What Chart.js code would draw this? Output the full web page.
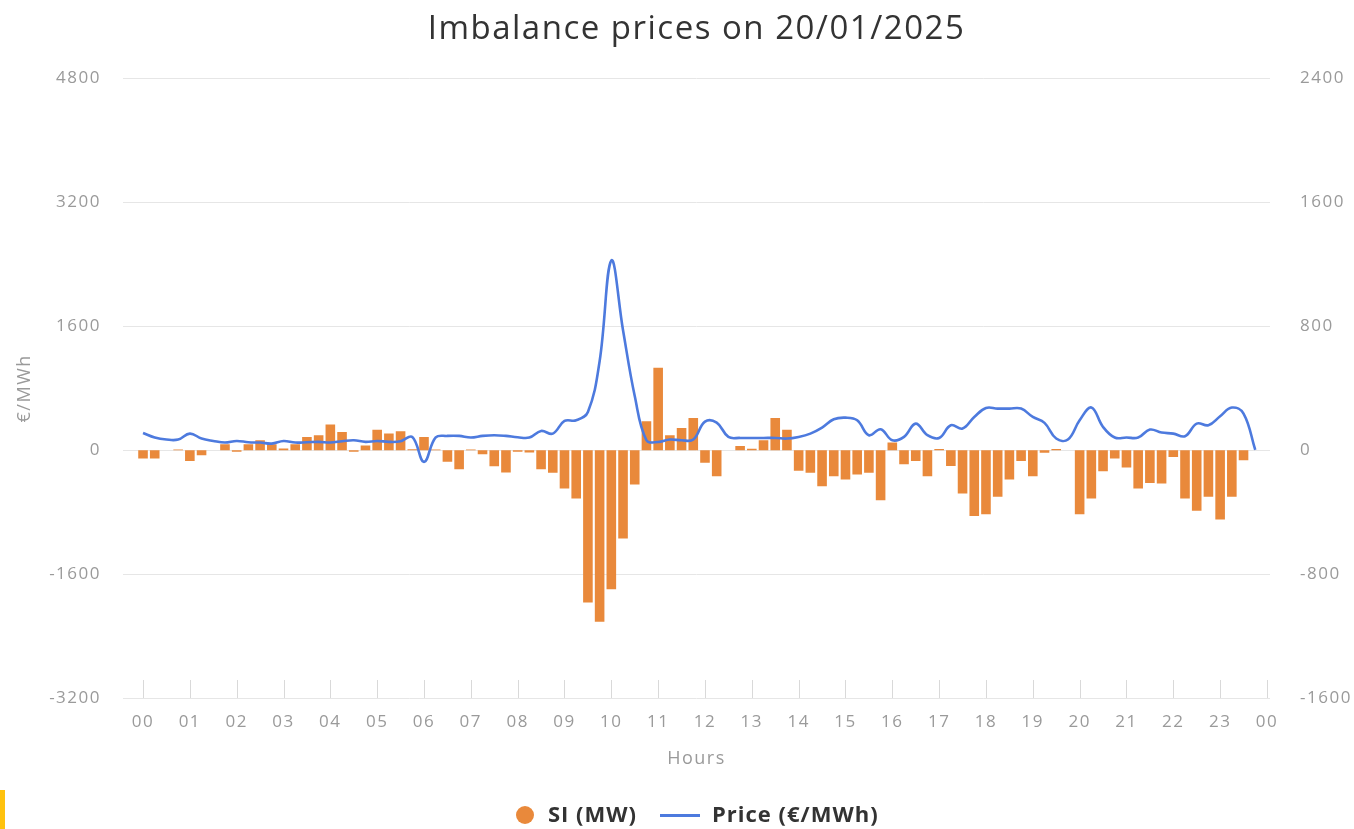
<!DOCTYPE html>
<html>
<head>
<meta charset="utf-8">
<script src="https://cdn.jsdelivr.net/npm/chart.js@4.4.1/dist/chart.umd.min.js"></script>
<style>
  html, body { margin: 0; padding: 0; background: #ffffff; }
  #wrap { position: relative; width: 1354px; height: 829px; overflow: hidden; }
  #c { position: absolute; left: 0; top: 0; }
  .lg { position: absolute; font-family: 'Open Sans', sans-serif; font-weight: 700; font-size: 22px;
        letter-spacing: 1px; color: #333; white-space: nowrap; line-height: 30px; top: 798px; }
  .dot { position: absolute; left: 516px; top: 806px; width: 18px; height: 18px; border-radius: 50%; background: #e9893b; }
  .ln { position: absolute; left: 660px; top: 814px; width: 40px; height: 3px; background: #4d7ade; }
  #mark { position: absolute; left: 0; top: 790px; width: 5px; height: 39px; background: #ffc20e; }
</style>
</head>
<body>
<div id="wrap">
  <canvas id="c" width="1354" height="829"></canvas>
  <span class="dot"></span><span class="lg" style="left:548px">SI (MW)</span>
  <span class="ln"></span><span class="lg" style="left:712px">Price (€/MWh)</span>
  <div id="mark"></div>
</div>
<script>
// ---- data ----
const hourLabels = ['00','01','02','03','04','05','06','07','08','09','10','11','12',
                    '13','14','15','16','17','18','19','20','21','22','23','00'];
// System imbalance per quarter hour (MW), 00:00 .. 23:45
const siMW = [
  -54, -54, 0, 5, -69, -32, 0, 39,
  -10, 39, 65, 39, 11, 39, 86, 97,
  166, 118, -10, 30, 133, 108, 123, 6,
  86, 5, -75, -123, 5, -26, -103, -144,
  -10, -15, -123, -146, -247, -312, -983, -1108,
  -897, -570, -222, 187, 533, 97, 144, 209,
  -80, -168, 0, 28, 10, 65, 209, 133,
  -133, -146, -232, -168, -189, -157, -146, -323,
  50, -90, -69, -168, 8, -101, -280, -424,
  -413, -301, -189, -69, -168, -17, 8, 0,
  -413, -312, -135, -54, -112, -247, -211, -215,
  -43, -312, -391, -301, -447, -301, -65, 0
];
// Imbalance price per quarter hour (EUR/MWh)
const priceEur = [
  223, 164, 138, 138, 215, 151, 120, 99,
  120, 103, 99, 86, 120, 99, 103, 108,
  100, 116, 129, 108, 120, 108, 116, 172,
  -150, 165, 185, 185, 164, 185, 194, 185,
  168, 164, 249, 215, 378, 387, 495, 1150,
  2450, 1550, 700, 129, 107, 138, 129, 138,
  370, 357, 172, 159, 159, 159, 159, 151,
  172, 215, 293, 400, 421, 387, 194, 271,
  129, 172, 344, 194, 159, 323, 280, 430,
  546, 538, 538, 538, 430, 353, 151, 138,
  387, 552, 301, 164, 164, 164, 267, 228,
  215, 181, 344, 323, 439, 551, 473, 5
];
const leftTicks = [-3200, -1600, 0, 1600, 3200, 4800];
const rightTicks = [-1600, -800, 0, 800, 1600, 2400];

const FONT = "'Open Sans', sans-serif";

const spacing = {
  id: 'spacing',
  beforeDraw(chart) { chart.ctx.letterSpacing = '1.5px'; }
};

const innerTicks = {
  id: 'innerTicks',
  afterDraw(chart) {
    const xs = chart.scales.x, ctx = chart.ctx, b = chart.chartArea.bottom;
    ctx.save();
    ctx.strokeStyle = '#d9d9d9';
    ctx.lineWidth = 1;
    xs.ticks.forEach(t => {
      const px = Math.round(xs.getPixelForValue(t.value)) + 0.5;
      ctx.beginPath();
      ctx.moveTo(px, b);
      ctx.lineTo(px, b - 18);
      ctx.stroke();
    });
    ctx.restore();
  }
};

new Chart(document.getElementById('c'), {
  type: 'bar',
  data: {
    datasets: [
      {
        type: 'line',
        label: 'Price (€/MWh)',
        data: priceEur.map((v, i) => ({ x: i, y: v })),
        yAxisID: 'y',
        borderColor: '#4d7ade',
        borderWidth: 2.6,
        pointRadius: 0,
        tension: 0.4,
        fill: false,
        order: 0
      },
      {
        type: 'bar',
        label: 'SI (MW)',
        data: siMW.map((v, i) => ({ x: i, y: v })),
        yAxisID: 'y1',
        backgroundColor: '#e9893b',
        barPercentage: 0.82,
        categoryPercentage: 1.0,
        order: 1
      }
    ]
  },
  options: {
    responsive: false,
    animation: false,
    devicePixelRatio: 1,
    layout: { padding: 0 },
    plugins: {
      legend: { display: false },
      tooltip: { enabled: false },
      title: {
        display: true,
        text: 'Imbalance prices on 20/01/2025',
        fullSize: false,
        color: '#333333',
        font: { family: FONT, size: 33, weight: 'normal' },
        padding: { top: 10, bottom: 29 }
      }
    },
    scales: {
      x: {
        type: 'linear',
        min: -1.71,
        max: 96.26,
        offset: false,
        afterBuildTicks(scale) {
          scale.ticks = hourLabels.map((_, h) => ({ value: h * 4 }));
        },
        afterFit(scale) { scale.height = 131; },
        ticks: {
          color: '#9a9a9a',
          font: { family: FONT, size: 17 },
          padding: 14,
          maxRotation: 0,
          autoSkip: false,
          callback: (v) => hourLabels[Math.round(v / 4)]
        },
        grid: { display: false, drawTicks: false, offset: false },
        border: { display: false },
        title: {
          display: true,
          text: 'Hours',
          color: '#9a9a9a',
          font: { family: FONT, size: 18 },
          padding: { top: 0, bottom: 59 }
        }
      },
      y: {
        position: 'left',
        min: leftTicks[0],
        max: leftTicks[leftTicks.length - 1],
        afterFit(scale) { scale.width = 123; },
        afterBuildTicks(scale) { scale.ticks = leftTicks.map(v => ({ value: v })); },
        ticks: {
          color: '#9a9a9a',
          font: { family: FONT, size: 17 },
          padding: 22,
          callback: (v) => String(v)
        },
        grid: { color: '#e6e6e6', drawTicks: false },
        border: { display: false },
        title: {
          display: true,
          text: '€/MWh',
          color: '#9a9a9a',
          font: { family: FONT, size: 18 },
          padding: { top: 14, bottom: 0 }
        }
      },
      y1: {
        position: 'right',
        min: rightTicks[0],
        max: rightTicks[rightTicks.length - 1],
        afterFit(scale) { scale.width = 84; },
        afterBuildTicks(scale) { scale.ticks = rightTicks.map(v => ({ value: v })); },
        ticks: {
          color: '#9a9a9a',
          font: { family: FONT, size: 17 },
          padding: 30,
          callback: (v) => String(v)
        },
        grid: { display: false, drawTicks: false },
        border: { display: false }
      }
    }
  },
  plugins: [spacing, innerTicks]
});
</script>
</body>
</html>
